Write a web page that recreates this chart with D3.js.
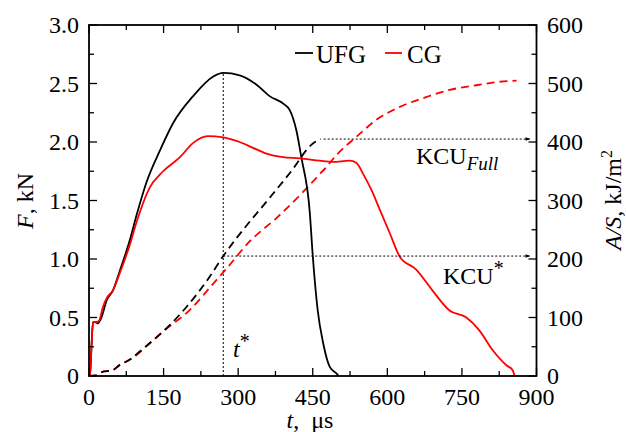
<!DOCTYPE html>
<html><head><meta charset="utf-8">
<script src="https://cdn.jsdelivr.net/npm/d3@7"></script>
<style>body{margin:0;background:#fff}svg{display:block}text{font-family:"Liberation Serif","Times New Roman",serif;fill:#000}</style>
</head><body><svg id="c" width="626" height="432"></svg>
<script>
// ---- data ----
const ufgForceT = [0,2,5,8,12,18,24,36,48,62,82,96,116,143,169,209,250,270,303,337,364,390,404,417,427,444,450,460,471,484,498,502];
const ufgForceF = [0,0,0.25,0.46,0.46,0.45,0.49,0.65,0.73,0.90,1.16,1.38,1.66,1.93,2.16,2.39,2.56,2.59,2.57,2.49,2.39,2.33,2.27,2.10,1.87,1.40,1.03,0.56,0.28,0.08,0.02,0];
const cgForceT = [0,2,5,8,14,20,28,36,48,62,82,96,122,149,183,209,239,270,303,330,357,390,424,464,490,524,538,551,568,585,605,625,658,691,725,759,785,812,840,852,856];
const cgForceF = [0,0,0.25,0.46,0.46,0.47,0.59,0.67,0.73,0.88,1.12,1.32,1.61,1.75,1.87,1.99,2.05,2.04,2.00,1.95,1.90,1.87,1.86,1.84,1.83,1.84,1.82,1.73,1.59,1.42,1.22,1.02,0.91,0.73,0.56,0.50,0.39,0.22,0.09,0.05,0];
const ufgEnergyT = [0,15,30,45,62,82,88,116,149,196,243,270,310,357,404,451,466];
const ufgEnergyA = [0,1,8,9,19,28,32,52,76,118,170,205,250,298,347,398,405];
const cgEnergyT = [0,15,30,45,62,82,88,116,149,203,250,277,323,377,431,464,477,498,538,578,625,679,725,779,826,860];
const cgEnergyA = [0,1,8,9,19,28,31,51,76,113,158,184,230,270,315,345,357,378,409,438,460,477,489,497,503,505];
const tTicks = [0,150,300,450,600,750,900];
const fTicks = [0,0.5,1.0,1.5,2.0,2.5,3.0];
const fTickLabels = ["0","0.5","1.0","1.5","2.0","2.5","3.0"];
const aTicks = [0,100,200,300,400,500,600];
const tStar = 270, fPeak = 2.59;
const kcuStar = 205, kcuFull = 405, kcuFullStartT = 472;
const seriesNames = ["UFG","CG"];
const seriesColors = ["#000","#ff0000"];

// ---- layout ----
const svg = d3.select("#c");
const L=89, R=536.5, T=25, B=376;
const x = d3.scaleLinear().domain([0,900]).range([L,R]);
const yF = d3.scaleLinear().domain([0,3]).range([B,T]);
const yA = d3.scaleLinear().domain([0,600]).range([B,T]);
const FS = 24;

const defs = svg.append("defs");
defs.append("clipPath").attr("id","clip").append("rect").attr("x",L).attr("y",T).attr("width",R-L).attr("height",B-T);
defs.append("marker").attr("id","arr").attr("viewBox","0 0 10 10").attr("refX",10).attr("refY",5)
  .attr("markerWidth",7).attr("markerHeight",5).attr("markerUnits","userSpaceOnUse").attr("orient","auto")
  .append("path").attr("d","M0,1.5L10,5L0,8.5Z").attr("fill","#000");

const g = svg.append("g").attr("clip-path","url(#clip)");

// dotted guides
g.append("line").attr("x1",x(tStar)).attr("x2",x(tStar)).attr("y1",yF(0)).attr("y2",yF(fPeak))
  .attr("stroke","#000").attr("stroke-width",1).attr("stroke-dasharray","2,2");
svg.append("line").attr("x1",x(tStar)).attr("x2",R-6).attr("y1",yA(kcuStar)).attr("y2",yA(kcuStar))
  .attr("stroke","#000").attr("stroke-width",1).attr("stroke-dasharray","2,2").attr("marker-end","url(#arr)");
svg.append("line").attr("x1",x(kcuFullStartT)).attr("x2",R-6).attr("y1",yA(kcuFull)).attr("y2",yA(kcuFull))
  .attr("stroke","#000").attr("stroke-width",1).attr("stroke-dasharray","2,2").attr("marker-end","url(#arr)");

const lineF = d3.line().x(d=>x(d[0])).y(d=>yF(d[1])).curve(d3.curveMonotoneX);
const lineA = d3.line().x(d=>x(d[0])).y(d=>yA(d[1])).curve(d3.curveMonotoneX);
const z = (a,b)=>a.map((v,i)=>[v,b[i]]);

g.append("path").attr("d",lineA(z(cgEnergyT,cgEnergyA))).attr("fill","none").attr("stroke",seriesColors[1]).attr("stroke-width",1.8).attr("stroke-dasharray","8,5");
g.append("path").attr("d",lineA(z(ufgEnergyT,ufgEnergyA))).attr("fill","none").attr("stroke",seriesColors[0]).attr("stroke-width",1.8).attr("stroke-dasharray","8,5");
g.append("path").attr("d",lineF(z(ufgForceT,ufgForceF))).attr("fill","none").attr("stroke",seriesColors[0]).attr("stroke-width",1.8);
g.append("path").attr("d",lineF(z(cgForceT,cgForceF))).attr("fill","none").attr("stroke",seriesColors[1]).attr("stroke-width",1.8);

// ticks (inward)
const tk = svg.append("g").attr("stroke","#000").attr("stroke-width",1.3);
d3.range(0,901,75).forEach(v=>{
  const len = v%150===0?8:5;
  tk.append("line").attr("x1",x(v)).attr("x2",x(v)).attr("y1",B).attr("y2",B-len);
  tk.append("line").attr("x1",x(v)).attr("x2",x(v)).attr("y1",T).attr("y2",T+len);
});
d3.range(0,3.001,0.25).forEach(v=>{
  const len = Math.abs(v*2-Math.round(v*2))<1e-6?8:5;
  tk.append("line").attr("x1",L).attr("x2",L+len).attr("y1",yF(v)).attr("y2",yF(v));
});
d3.range(0,601,50).forEach(v=>{
  const len = v%100===0?8:5;
  tk.append("line").attr("x1",R).attr("x2",R-len).attr("y1",yA(v)).attr("y2",yA(v));
});
svg.append("rect").attr("x",L).attr("y",T).attr("width",R-L).attr("height",B-T).attr("fill","none").attr("stroke","#000").attr("stroke-width",1.8);

// tick labels
tTicks.forEach(v=>svg.append("text").attr("x",x(v)).attr("y",405).attr("text-anchor","middle").attr("font-size",FS).text(v));
fTicks.forEach((v,i)=>svg.append("text").attr("x",79).attr("y",yF(v)+8).attr("text-anchor","end").attr("font-size",FS).text(fTickLabels[i]));
aTicks.forEach(v=>svg.append("text").attr("x",547).attr("y",yA(v)+8).attr("font-size",FS).text(v));

// axis titles
const ft = svg.append("text").attr("transform","translate(33,201) rotate(-90)").attr("text-anchor","middle").attr("font-size",FS);
ft.append("tspan").attr("font-style","italic").text("F");
ft.append("tspan").text(", kN");
const xt = svg.append("text").attr("x",310).attr("y",428).attr("text-anchor","middle").attr("font-size",FS);
xt.append("tspan").attr("font-style","italic").text("t");
xt.append("tspan").text(",\u00a0\u00a0μs");
const at = svg.append("text").attr("transform","translate(621,200) rotate(-90)").attr("text-anchor","middle").attr("font-size",FS);
at.append("tspan").attr("font-style","italic").text("A/S");
at.append("tspan").text(", kJ/m");
at.append("tspan").attr("font-size",16).attr("dy",-9).text("2");

// legend
svg.append("line").attr("x1",295).attr("x2",313).attr("y1",53).attr("y2",53).attr("stroke",seriesColors[0]).attr("stroke-width",1.8);
svg.append("text").attr("x",316).attr("y",63).attr("font-size",FS+1).text(seriesNames[0]);
svg.append("line").attr("x1",385).attr("x2",402).attr("y1",53).attr("y2",53).attr("stroke",seriesColors[1]).attr("stroke-width",1.8);
svg.append("text").attr("x",407).attr("y",63).attr("font-size",FS+1).text(seriesNames[1]);

// annotations
const k1 = svg.append("text").attr("x",416).attr("y",164).attr("font-size",FS);
k1.append("tspan").text("KCU");
k1.append("tspan").attr("font-style","italic").attr("font-size",19).attr("dy",6).text("Full");
const k2 = svg.append("text").attr("x",443).attr("y",284).attr("font-size",FS);
k2.append("tspan").text("KCU");
k2.append("tspan").attr("font-size",20).attr("dy",-9).text("*");
const ts = svg.append("text").attr("x",233).attr("y",357).attr("font-size",FS);
ts.append("tspan").attr("font-style","italic").text("t");
ts.append("tspan").attr("font-size",20).attr("dy",-9).text("*");
</script></body></html>
